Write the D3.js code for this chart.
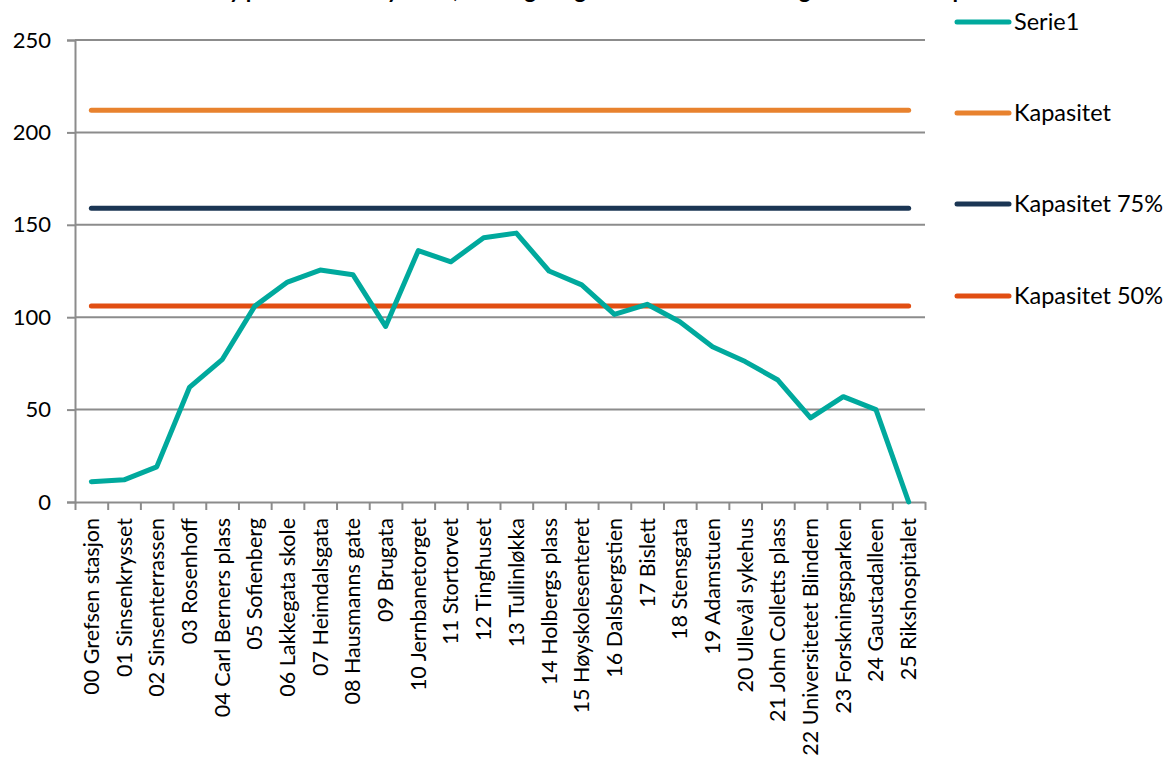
<!DOCTYPE html>
<html>
<head>
<meta charset="utf-8">
<script src="https://cdn.jsdelivr.net/npm/d3@7"></script>
<style>
  html, body { margin: 0; padding: 0; background: #fff; }
  svg { display: block; font-family: Lato, "Noto Sans", sans-serif; }
</style>
</head>
<body>
<svg id="chart" width="1170" height="760"></svg>
<script>
// Stops along the line
const stops = [
  "00 Grefsen stasjon", "01 Sinsenkrysset", "02 Sinsenterrassen", "03 Rosenhoff",
  "04 Carl Berners plass", "05 Sofienberg", "06 Lakkegata skole", "07 Heimdalsgata",
  "08 Hausmanns gate", "09 Brugata", "10 Jernbanetorget", "11 Stortorvet",
  "12 Tinghuset", "13 Tullinløkka", "14 Holbergs plass", "15 Høyskolesenteret",
  "16 Dalsbergstien", "17 Bislett", "18 Stensgata", "19 Adamstuen",
  "20 Ullevål sykehus", "21 John Colletts plass", "22 Universitetet Blindern",
  "23 Forskningsparken", "24 Gaustadalleen", "25 Rikshospitalet"
];

// Passengers on board after each stop
const serie1 = [11, 12, 19, 62, 77, 106, 119, 125.5, 123, 95, 136, 130, 143, 145.5,
                125, 117.5, 101.5, 107, 97.5, 84, 76, 66, 45.5, 57, 50, 0];

// Capacity levels
const kapasitet = 212;
const kapasitet75 = 159;
const kapasitet50 = 106;

const yTicks = [0, 50, 100, 150, 200, 250];

const seriesNames = ["Serie1", "Kapasitet", "Kapasitet 75%", "Kapasitet 50%"];
const seriesColors = ["#00A99D", "#E8822E", "#1B3654", "#E14E12"];

const titleText = "Ny plass til hele bydelen, ukedager og kveld – hele strekningen sett mot kapasitet";

const svg = d3.select("#chart");

const plotLeft = 75, plotRight = 925, plotTop = 40, plotBottom = 502;

const x = d3.scaleBand().domain(stops).range([plotLeft, plotRight]).paddingInner(0).paddingOuter(0);
const xEdge = d3.scaleLinear().domain([0, stops.length]).range([plotLeft, plotRight]);
const y = d3.scaleLinear().domain([0, 250]).range([plotBottom, plotTop]);
const cx = d => x(d) + x.bandwidth() / 2;

const gridColor = "#8C8C8C";

// Title (sits mostly above the visible area)
svg.append("text")
  .attr("x", 212).attr("y", -2)
  .attr("text-anchor", "start")
  .attr("font-weight", "bold")
  .attr("font-size", 22.5)
  .attr("fill", "#000")
  .text(titleText);

// Horizontal gridlines
svg.append("g").selectAll("line")
  .data(yTicks.filter(t => t > 0))
  .join("line")
  .attr("x1", plotLeft).attr("x2", plotRight)
  .attr("y1", d => y(d)).attr("y2", d => y(d))
  .attr("stroke", gridColor).attr("stroke-width", 2);

// Y axis
const yAxis = svg.append("g")
  .attr("transform", `translate(${plotLeft},0)`)
  .call(d3.axisLeft(y).tickValues(yTicks).tickSize(8).tickPadding(16));
yAxis.select(".domain").attr("stroke", gridColor).attr("stroke-width", 2);
yAxis.selectAll(".tick line").attr("stroke", gridColor).attr("stroke-width", 2);
yAxis.selectAll(".tick text")
  .attr("font-size", 22).attr("fill", "#000")
  .attr("font-family", "Lato, sans-serif");

// X axis: ticks between categories
const xAxis = svg.append("g")
  .attr("transform", `translate(0,${plotBottom})`)
  .call(d3.axisBottom(xEdge).tickValues(d3.range(stops.length + 1)).tickFormat("").tickSize(8).tickSizeOuter(0));
xAxis.select(".domain").attr("stroke", gridColor).attr("stroke-width", 2);
xAxis.selectAll(".tick line").attr("stroke", gridColor).attr("stroke-width", 2);

// Category labels, rotated
svg.append("g").selectAll("text")
  .data(stops)
  .join("text")
  .attr("transform", d => `translate(${cx(d)},${plotBottom + 16}) rotate(-90)`)
  .attr("text-anchor", "end")
  .attr("dy", "0.35em")
  .attr("font-size", 21.5)
  .attr("fill", "#000")
  .text(d => d);

// Lines
const line = d3.line().x((d, i) => cx(stops[i])).y(d => y(d));
const lineData = [
  serie1,
  stops.map(() => kapasitet),
  stops.map(() => kapasitet75),
  stops.map(() => kapasitet50)
];

// Draw capacity lines first, then Serie1 on top
[1, 2, 3, 0].forEach(k => {
  svg.append("path")
    .datum(lineData[k])
    .attr("d", line)
    .attr("fill", "none")
    .attr("stroke", seriesColors[k])
    .attr("stroke-width", 5)
    .attr("stroke-linecap", "round")
    .attr("stroke-linejoin", "round");
});

// Legend
const legendY = [22, 113, 204, 296];
const legend = svg.append("g");
seriesNames.forEach((name, i) => {
  legend.append("line")
    .attr("x1", 957).attr("x2", 1009)
    .attr("y1", legendY[i]).attr("y2", legendY[i])
    .attr("stroke", seriesColors[i])
    .attr("stroke-width", 5)
    .attr("stroke-linecap", "round");
  legend.append("text")
    .attr("x", 1014).attr("y", legendY[i])
    .attr("dy", "0.35em")
    .attr("font-size", 23.5)
    .attr("fill", "#000")
    .text(name);
});
</script>
</body>
</html>
